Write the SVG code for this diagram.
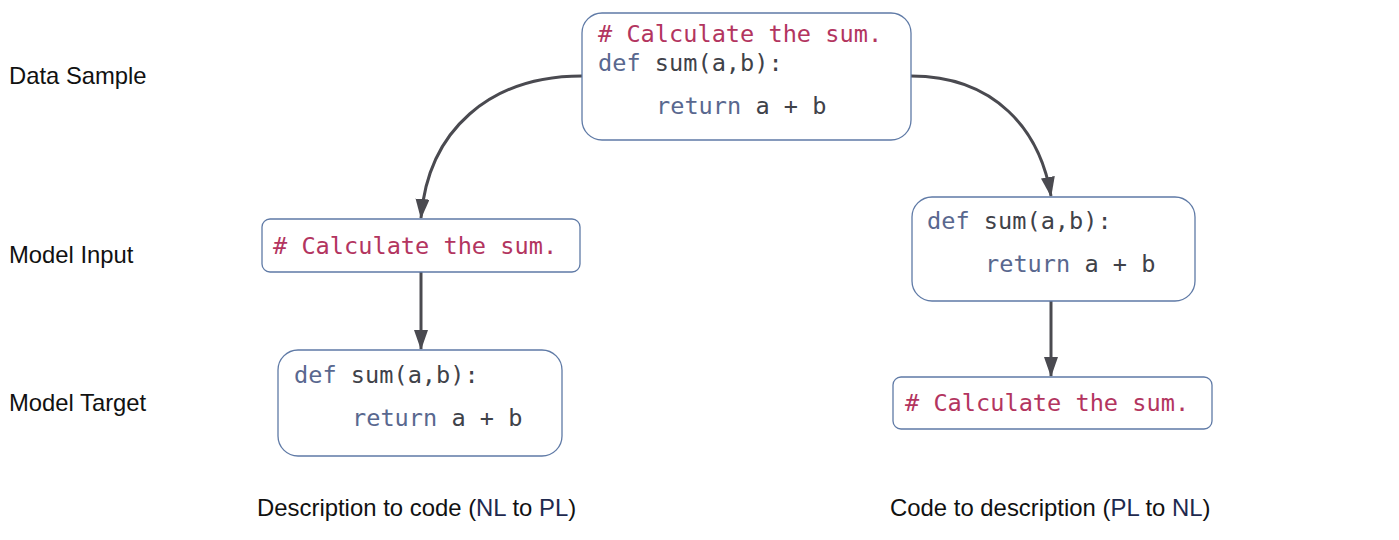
<svg xmlns="http://www.w3.org/2000/svg" width="1399" height="540" viewBox="0 0 1399 540">
<style>
.box{fill:#ffffff;stroke:#5f7aa6;stroke-width:1.3}
.code{font-family:"DejaVu Sans Mono","Liberation Mono",monospace;font-size:23.6px;fill:#3f4249}
.cm{fill:#b3355f}
.kw{fill:#59688f}
.lbl{font-family:"Liberation Sans",Arial,sans-serif;font-size:23.8px;fill:#111111}
.cap{font-family:"Liberation Sans",Arial,sans-serif;font-size:23.9px;fill:#111111}
.hl{fill:#1e2a4f}
.conn{fill:none;stroke:#4a4a50;stroke-width:3}
</style>
<defs>
<marker id="arr" markerUnits="userSpaceOnUse" markerWidth="20" markerHeight="16" refX="19" refY="7" orient="auto">
<path d="M0,0 L20,7 L0,14 z" fill="#4a4a50"/>
</marker>
</defs>
<rect width="1399" height="540" fill="#ffffff"/>
<g id="labels">
<text class="lbl" x="9" y="84">Data Sample</text>
<text class="lbl" x="9" y="263">Model Input</text>
<text class="lbl" x="9" y="411">Model Target</text>
</g>
<g id="connectors">
<path class="conn" d="M582,76 C490,76 428,130 421,218" marker-end="url(#arr)"/>
<path class="conn" d="M911,76 C995,76 1040,130 1051,196" marker-end="url(#arr)"/>
<path class="conn" d="M421,272 L421,349" marker-end="url(#arr)"/>
<path class="conn" d="M1051,301 L1051,376" marker-end="url(#arr)"/>
</g>
<g id="sample">
<rect class="box" x="582" y="13" width="329" height="127" rx="20"/>
<text class="code" x="598" y="42"><tspan class="cm"># Calculate the sum.</tspan></text>
<text class="code" x="598" y="71"><tspan class="kw">def</tspan> sum(a,b):</text>
<text class="code" x="656" y="114"><tspan class="kw">return</tspan> a + b</text>
</g>
<g id="nl-input">
<rect class="box" x="262" y="219" width="318" height="53" rx="8"/>
<text class="code" x="273" y="254"><tspan class="cm"># Calculate the sum.</tspan></text>
</g>
<g id="nl-target">
<rect class="box" x="278" y="350" width="284" height="106" rx="20"/>
<text class="code" x="294" y="383"><tspan class="kw">def</tspan> sum(a,b):</text>
<text class="code" x="352" y="426"><tspan class="kw">return</tspan> a + b</text>
</g>
<g id="pl-input">
<rect class="box" x="912" y="197" width="283" height="104" rx="20"/>
<text class="code" x="927" y="229"><tspan class="kw">def</tspan> sum(a,b):</text>
<text class="code" x="985" y="272"><tspan class="kw">return</tspan> a + b</text>
</g>
<g id="pl-target">
<rect class="box" x="893" y="377" width="319" height="52" rx="8"/>
<text class="code" x="905" y="411"><tspan class="cm"># Calculate the sum.</tspan></text>
</g>
<g id="captions">
<text class="cap" x="257" y="516">Description to code (<tspan class="hl">NL</tspan> to <tspan class="hl">PL</tspan>)</text>
<text class="cap" x="890" y="516">Code to description (<tspan class="hl">PL</tspan> to <tspan class="hl">NL</tspan>)</text>
</g>
</svg>
